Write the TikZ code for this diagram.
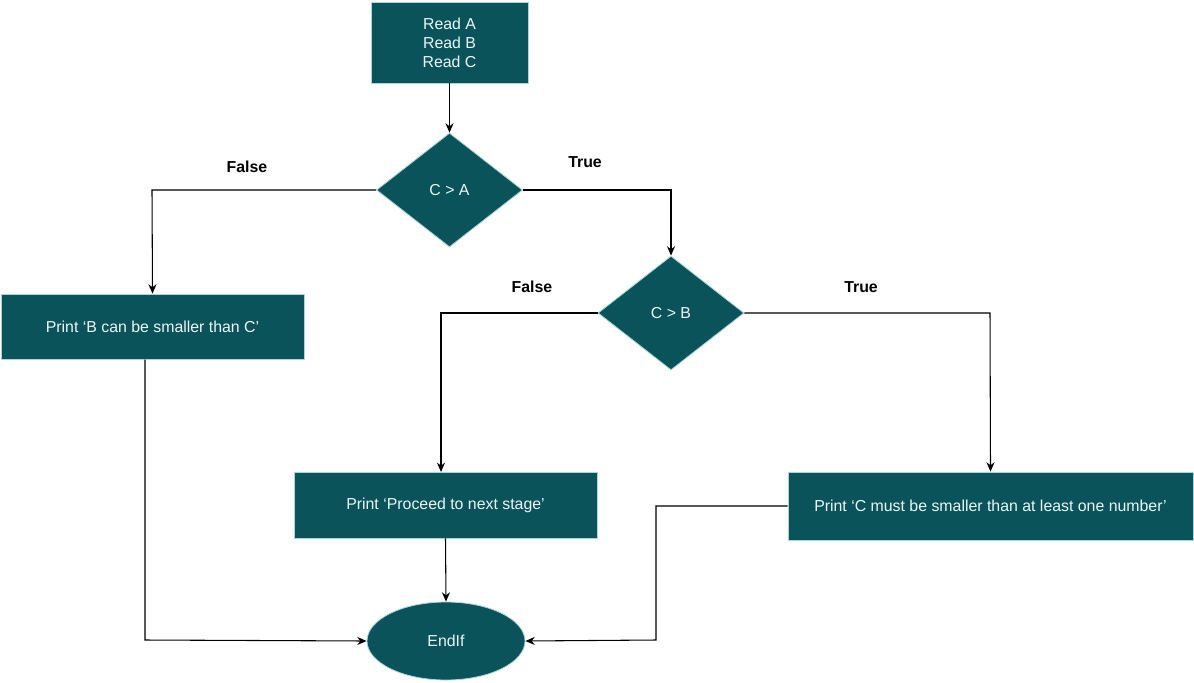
\documentclass[tikz,border=0pt]{standalone}
\usepackage{fontspec}
\setmainfont{Liberation Sans}
\usetikzlibrary{shapes.geometric,arrows.meta}
\definecolor{boxfill}{HTML}{0B535A}
\definecolor{boxline}{HTML}{A9D8DC}
\definecolor{boxtext}{HTML}{EAF6F6}
\begin{document}
\begin{tikzpicture}[x=0.75pt,y=-0.75pt,
  every node/.style={font=\fontsize{11.9}{14.25}\selectfont},
  procbox/.style={rectangle,draw=boxline,line width=0.6pt,fill=boxfill,text=boxtext,inner sep=0pt,align=center},
  decbox/.style={diamond,draw=boxline,line width=0.6pt,fill=boxfill,text=boxtext,inner sep=0pt,aspect=1.28},
  endbox/.style={ellipse,draw=boxline,line width=0.6pt,fill=boxfill,text=boxtext,inner sep=0pt},
  flow/.style={draw=black,line width=0.8pt,-{Stealth[length=7pt,width=6pt]}},
  lbl/.style={font=\fontsize{11.9}{14}\bfseries\selectfont}]
\useasboundingbox (0,0) rectangle (1194,682);
% process boxes
\node[procbox,minimum width=157*0.75pt,minimum height=81*0.75pt] (read) at (449.5,42.5) {Read A\\Read B\\Read C};
\node[procbox,minimum width=303*0.75pt,minimum height=65*0.75pt] (pb) at (152.5,326.5) {Print ‘B can be smaller than C’};
\node[procbox,minimum width=303*0.75pt,minimum height=66*0.75pt] (pp) at (445.5,505) {Print ‘Proceed to next stage’};
\node[procbox,minimum width=405*0.75pt,minimum height=68*0.75pt] (pc) at (990.5,506) {Print ‘C must be smaller than at least one number’};
% decisions
\node[decbox,minimum width=146*0.75pt,minimum height=114*0.75pt] (ca) at (449.5,190) {C > A};
\node[decbox,minimum width=146*0.75pt,minimum height=114*0.75pt] (cb) at (671,313) {C > B};
% end
\node[endbox,minimum width=158*0.75pt,minimum height=78*0.75pt] (end) at (446,641) {EndIf};
% waypoints
\coordinate (j1) at (656,506);
% connectors
\draw[flow] (read.south) -- (ca.north);
\draw[flow] (ca.west) -- (152,190) -- (pb.north);
\draw[flow] (ca.east) -- (671,190) -- (cb.north);
\draw[flow] (cb.west) -- (441,313) -- (441,472);
\draw[flow] (cb.east) -- (990,313) -- (pc.north);
\draw[flow] (145,359.5) -- (145,640) -- (end.west);
\draw[flow] (pp.south) -- (end.north);
\draw[flow] (pc.west) -- (j1) -- (656,640) -- (end.east);
% branch labels
\node[lbl] (f1) at (247,167) {False};
\node[lbl] (t1) at (585,162) {True};
\node[lbl] (f2) at (532,287) {False};
\node[lbl] (t2) at (861,287) {True};
\end{tikzpicture}
\end{document}
